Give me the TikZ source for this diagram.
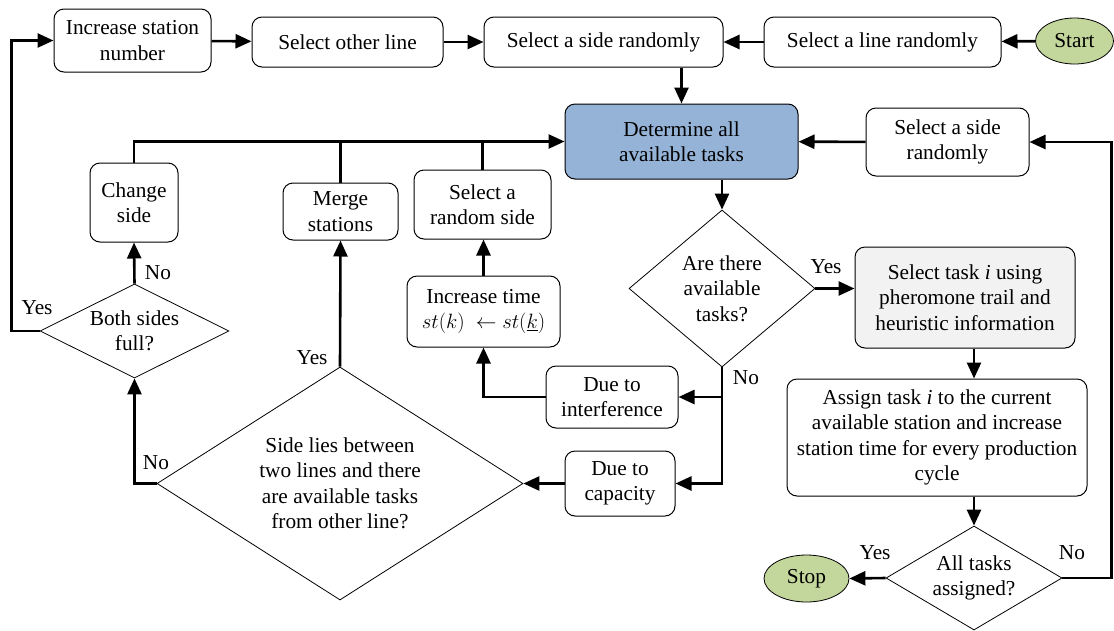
\documentclass[tikz,border=0pt]{standalone}
\usepackage{fontspec}
\setmainfont{LiberationSerif}[Extension=.ttf,UprightFont=*-Regular,ItalicFont=*-Italic,BoldFont=*-Bold]
\usetikzlibrary{shapes.geometric,arrows.meta}
\definecolor{detblue}{RGB}{149,179,215}
\definecolor{selgray}{RGB}{242,242,242}
\definecolor{termgreen}{RGB}{195,214,155}

\begin{document}
\begin{tikzpicture}[x=1pt,y=1pt,
  every node/.style={inner sep=0pt,font=\fontsize{21.3}{25.5}\selectfont},
  proc/.style={draw,line width=1pt,rounded corners=10pt,align=center},
  decide/.style={draw,diamond,line width=0.8pt,align=center},
  term/.style={draw,ellipse,line width=0.8pt,fill=termgreen},
  flow/.style={line width=2.6pt,-{Triangle[length=16pt,width=14pt]}},
  bus/.style={line width=2.6pt}]
\useasboundingbox (0,0) rectangle (1114,-630);
\node[proc,minimum width=157pt,minimum height=63pt] (incr) at (132.5,-40.5) {Increase station\\number};
\node[proc,minimum width=191pt,minimum height=50pt] (othr) at (347.5,-42) {Select other line};
\node[proc,minimum width=239pt,minimum height=50pt] (side1) at (603.5,-42) {Select a side randomly};
\node[proc,minimum width=237pt,minimum height=50pt] (line) at (882.5,-42) {Select a line randomly};
\node[term,minimum width=78pt,minimum height=46pt] (start) at (1074.5,-41) {Start};
\node[proc,fill=detblue,minimum width=233pt,minimum height=75pt] (det) at (681.5,-141.5) {Determine all\\available tasks};
\node[proc,minimum width=163pt,minimum height=68pt] (side2) at (947.5,-142) {Select a side\\randomly};
\node[proc,minimum width=88pt,minimum height=79pt] (chg) at (134,-202.5) {Change\\side};
\node[proc,minimum width=115pt,minimum height=57pt] (merge) at (340.5,-211.5) {Merge\\stations};
\node[proc,minimum width=137pt,minimum height=69pt] (rside) at (482.5,-204.5) {Select a\\random side};
\node[proc,minimum width=153pt,minimum height=71pt] (inct) at (483.5,-311.5) {Increase time\\$st(k)\ \leftarrow st(\underline{k})$};
\node[decide,aspect=2,minimum width=189pt,minimum height=94pt] (full) at (134.5,-331) {Both sides\\full?};
\node[decide,aspect=1.57,minimum width=366pt,minimum height=233pt] (lies) at (340,-483.5) {Side lies between\\two lines and there\\are available tasks\\from other line?};
\node[decide,aspect=1.18,minimum width=186pt,minimum height=157pt] (avail) at (722,-288.5) {Are there\\available\\tasks?};
\node[proc,minimum width=132pt,minimum height=62pt] (intf) at (612,-397) {Due to\\interference};
\node[proc,minimum width=110pt,minimum height=65pt] (cap) at (620,-483.5) {Due to\\capacity};
\node[proc,fill=selgray,minimum width=220pt,minimum height=101pt] (seltask) at (965,-297.5) {Select task \textit{i} using\\pheromone trail and\\heuristic information};
\node[proc,minimum width=300pt,minimum height=117pt] (assign) at (937,-437.5) {Assign task \textit{i} to the current\\available station and increase\\station time for every production\\cycle};
\node[decide,aspect=1.7,minimum width=176pt,minimum height=104pt] (all) at (974,-578) {All tasks\\assigned?};
\node[term,minimum width=85pt,minimum height=47pt] (stop) at (806.5,-578.5) {Stop};
\node (yesavail) at (826,-267) {Yes};
\node (noavail) at (746,-378) {No};
\node (yesfull) at (37,-308) {Yes};
\node (nofull) at (158,-273) {No};
\node (yeslies) at (312,-358) {Yes};
\node (nolies) at (156,-463) {No};
\node (yesall) at (875,-553) {Yes};
\node (noall) at (1072,-553) {No};
\draw[flow] (start) -- (line);
\draw[flow] (line) -- (side1);
\draw[flow] (incr) -- (othr);
\draw[flow] (othr) -- (side1);
\draw[flow] (det.north |- side1.south) -- (det.north);
\draw[flow] (side2) -- (det);
\draw[flow] (chg.north) |- (det.west);
\draw[bus] (merge.north) -- (merge.north |- det.west);
\draw[bus] (rside.north) -- (rside.north |- det.west);
\draw[flow] (avail.north |- det.south) -- (avail.north);
\draw[flow] (avail.east) -- (avail.east -| seltask.west);
\draw[flow] (all.north |- seltask.south) -- (all.north |- assign.north);
\draw[flow] (all.north |- assign.south) -- (all.north);
\draw[flow] (all.west) -- (stop.east);
\draw[flow] (all.east) -- ++(49,0) |- (side2.east);
\draw[flow] (avail.south) |- (cap.east);
\draw[flow] (avail.south |- intf.east) -- (intf.east);
\draw[flow] (cap.west) -- (lies.east);
\draw[flow] (intf.west) -| (inct.south);
\draw[flow] (inct.north) -- (inct.north |- rside.south);
\draw[flow] (lies.north) -- (merge.south);
\draw[flow] (lies.west) -| (full.south);
\draw[flow] (full.north) -- (chg.south);
\draw[flow] (full.west) -- ++(-28,0) |- (incr.west);
\end{tikzpicture}
\end{document}
